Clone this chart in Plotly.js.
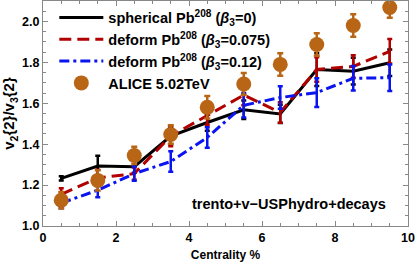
<!DOCTYPE html>
<html><head><meta charset="utf-8">
<script src="https://cdn.plot.ly/plotly-3.0.1.min.js"></script>
<style>html,body{margin:0;padding:0;background:#fff}#chart{width:415px;height:262px}</style>
</head><body><div id="chart"></div>
<script>
const centrality = [0.5,1.5,2.5,3.5,4.5,5.5,6.5,7.5,8.5,9.5];
const spherical = [1.233,1.293,1.290,1.440,1.506,1.568,1.548,1.765,1.757,1.798];
const sphericalErr = [0.010,0.050,0.030,0.040,0.040,0.045,0.045,0.080,0.065,0.065];
const deform075 = [1.155,1.235,1.256,1.440,1.540,1.640,1.555,1.765,1.780,1.854];
const deform075Err = [0.030,0.040,0.030,0.050,0.045,0.050,0.050,0.060,0.055,0.060];
const deform012 = [1.112,1.175,1.256,1.315,1.433,1.590,1.628,1.652,1.722,1.725];
const deform012Err = [0.025,0.035,0.035,0.050,0.050,0.060,0.055,0.070,0.060,0.065];
const alice = [1.126,1.223,1.345,1.447,1.580,1.694,1.790,1.887,1.980,2.068];
const aliceErr = [0.040,0.050,0.042,0.045,0.055,0.054,0.055,0.055,0.055,0.050];

const orange = 'rgb(185,101,22)';
const FAM = 'Liberation Sans, Arial, sans-serif';
function model(y, e, color, dash, name){
  return {x: centrality, y: y, type:'scatter', mode:'lines', name: name,
    line:{color: color, width:3, dash: dash},
    error_y:{type:'data', array: e, visible:true, color: color, thickness:2.5, width:2.5}};
}
const traces = [
  model(spherical, sphericalErr, '#000000', 'solid', 'spherical Pb<sup>208</sup> (<i>β</i><sub>3</sub>=0)'),
  model(deform075, deform075Err, '#B00000', '12px,6px', 'deform Pb<sup>208</sup> (<i>β</i><sub>3</sub>=0.075)'),
  model(deform012, deform012Err, '#0A14F0', '10px,4px,3px,4px', 'deform Pb<sup>208</sup> (<i>β</i><sub>3</sub>=0.12)'),
  {x: centrality, y: alice, type:'scatter', mode:'markers', name:'ALICE 5.02TeV',
   marker:{color: orange, size:15, symbol:'circle'},
   error_y:{type:'data', array: aliceErr, visible:true, color: orange, thickness:2.5, width:3}}
];
const axisCommon = {showgrid:false, zeroline:false, showline:true, linecolor:'#888', linewidth:1,
  mirror:'allticks', ticks:'inside', ticklen:5, tickcolor:'#888', tickwidth:1,
  tickfont:{family:FAM, size:12.5, color:'#000', weight:'bold'}};
const layout = {
  width:415, height:262, margin:{l:43, r:7, t:1, b:36},
  paper_bgcolor:'#fff', plot_bgcolor:'#fff', font:{family:FAM, size:12, color:'#000', weight:'bold'}, showlegend:true,
  xaxis: Object.assign({}, axisCommon, {range:[0,10], dtick:2, tick0:0,
    minor:{dtick:0.5, ticks:'inside', ticklen:3, tickcolor:'#888'},
    title:{text:'Centrality %', font:{size:12, weight:'bold', family:FAM}, standoff:6}}),
  yaxis: Object.assign({}, axisCommon, {range:[1.0,2.1], dtick:0.2, tick0:1.0, tickformat:'.1f',
    minor:{dtick:0.05, ticks:'inside', ticklen:3, tickcolor:'#888'},
    title:{text:'v<sub>2</sub>{2}/v<sub>3</sub>{2}', font:{size:15, weight:'bold', family:FAM}, standoff:3}}),
  legend:{x:0.031, y:0.998, xanchor:'left', yanchor:'top', bgcolor:'rgba(0,0,0,0)',
    font:{family:FAM, size:14.5, weight:'bold', color:'#000'},
    itemwidth:44, tracegroupgap:0},
  annotations:[{x:9.45, y:1.107, xref:'x', yref:'y', xanchor:'right', yanchor:'middle', showarrow:false,
    text:'trento+v−USPhydro+decays', font:{family:FAM, size:14.5, weight:'bold', color:'#000'}}]
};
Plotly.newPlot('chart', traces, layout, {displayModeBar:false, staticPlot:true});
</script></body></html>
